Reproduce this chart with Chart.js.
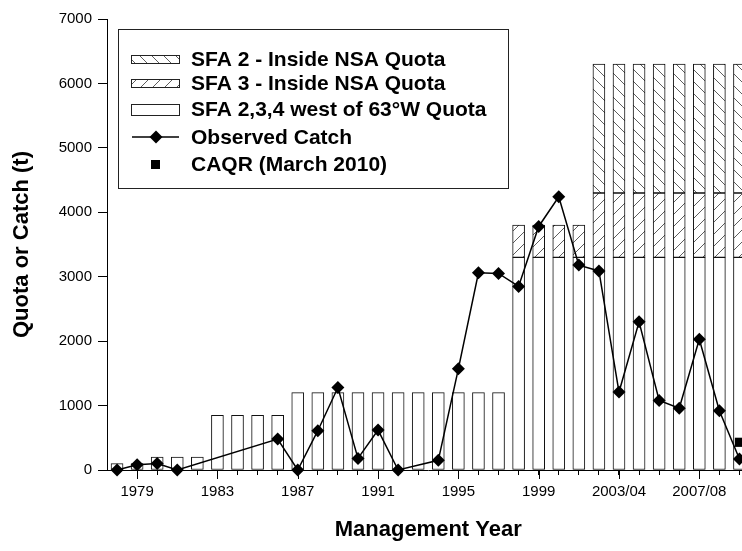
<!DOCTYPE html>
<html>
<head>
<meta charset="utf-8">
<script src="https://cdn.jsdelivr.net/npm/chart.js@4/dist/chart.umd.min.js"></script>
<style>
  html, body { margin: 0; padding: 0; background: #fff; overflow: hidden; }
  #wrap { position: relative; width: 756px; height: 551px; }
</style>
</head>
<body>
<div id="wrap"><canvas id="chart"></canvas></div>
<script>
const years = ['1978', '1979', '1980', '1981', '1982', '1983', '1984', '1985', '1986', '1987',
  '1988', '1989', '1990', '1991', '1992', '1993', '1994', '1995', '1996', '1997',
  '1998', '1999', '2000', '2001', '2002', '2003/04', '2004/05', '2005/06', '2006/07',
  '2007/08', '2008/09', '2009/10'];

// quota pieces (t)
const westQuota = [100, 100, 200, 200, 200, 850, 850, 850, 850, 1200,
  1200, 1200, 1200, 1200, 1200, 1200, 1200, 1200, 1200, 1200,
  3300, 3300, 3300, 3300, 3300, 3300, 3300, 3300, 3300, 3300, 3300, 3300];
const sfa3Quota = [null, null, null, null, null, null, null, null, null, null,
  null, null, null, null, null, null, null, null, null, null,
  500, 500, 500, 500, 1000, 1000, 1000, 1000, 1000, 1000, 1000, 1000];
const sfa2Quota = [null, null, null, null, null, null, null, null, null, null,
  null, null, null, null, null, null, null, null, null, null,
  null, null, null, null, 2000, 2000, 2000, 2000, 2000, 2000, 2000, 2000];

const observedCatch = [0, 80, 100, 0, null, null, null, null, 480, 0,
  610, 1280, 180, 620, 0, null, 150, 1570, 3060, 3050,
  2850, 3780, 4240, 3180, 3090, 1210, 2300, 1080, 960, 2030, 920, 170];
const caqr = [null, null, null, null, null, null, null, null, null, null,
  null, null, null, null, null, null, null, null, null, null,
  null, null, null, null, null, null, null, null, null, null, null, 430];

const yTicks = [0, 1000, 2000, 3000, 4000, 5000, 6000, 7000];
const shownYears = ['1979', '1983', '1987', '1991', '1995', '1999', '2003/04', '2007/08'];

const FONT = "'Liberation Sans', Arial, Helvetica, sans-serif";

const ctx = document.getElementById('chart').getContext('2d');

function makePattern(dir) {
  const c = document.createElement('canvas');
  c.width = 12;
  c.height = 12;
  const g = c.getContext('2d');
  g.fillStyle = '#fff';
  g.fillRect(0, 0, 12, 12);
  g.strokeStyle = '#333';
  g.lineWidth = 0.8;
  g.beginPath();
  for (let k = -12; k <= 12; k += 12) {
    if (dir === 'back') { g.moveTo(k - 1, -1); g.lineTo(k + 13, 13); }
    else { g.moveTo(k - 1, 13); g.lineTo(k + 13, -1); }
  }
  g.stroke();
  return ctx.createPattern(c, 'repeat');
}

const backHatch = makePattern('back');
const fwdHatch = makePattern('fwd');

// legend box + long major ticks on the x axis
const extras = {
  id: 'extras',
  afterDraw(chart) {
    const c = chart.ctx;
    const xs = chart.scales.x;
    const base = chart.chartArea.bottom;

    c.save();
    c.strokeStyle = '#000';
    c.lineWidth = 1;
    years.forEach((y, i) => {
      if (shownYears.includes(y)) {
        const px = Math.round(xs.getPixelForValue(i)) + 0.5;
        c.beginPath();
        c.moveTo(px, base);
        c.lineTo(px, base + 9);
        c.stroke();
      }
    });

    // legend
    const lx = 118, ly = 29, lw = 390, lh = 159;
    c.fillStyle = '#fff';
    c.fillRect(lx, ly, lw, lh);
    c.strokeStyle = '#222';
    c.strokeRect(lx + 0.5, ly + 0.5, lw, lh);

    const items = [
      { label: 'SFA 2 - Inside NSA Quota', kind: 'box', fill: backHatch, y: 59, h: 8 },
      { label: 'SFA 3 - Inside NSA Quota', kind: 'box', fill: fwdHatch, y: 83, h: 8 },
      { label: 'SFA 2,3,4 west of 63\u00b0W Quota', kind: 'box', fill: '#fff', y: 109, h: 11 },
      { label: 'Observed Catch', kind: 'line', y: 137 },
      { label: 'CAQR (March 2010)', kind: 'square', y: 164.5 },
    ];
    c.font = 'bold 21px ' + FONT;
    c.textBaseline = 'middle';
    items.forEach((it) => {
      if (it.kind === 'box') {
        c.fillStyle = it.fill;
        c.fillRect(131, it.y - it.h / 2, 48, it.h);
        c.strokeStyle = '#222';
        c.lineWidth = 1;
        c.strokeRect(131.5, Math.round(it.y - it.h / 2) + 0.5, 48, it.h);
      } else if (it.kind === 'line') {
        c.strokeStyle = '#000';
        c.lineWidth = 1.5;
        c.beginPath();
        c.moveTo(132, it.y);
        c.lineTo(179, it.y);
        c.stroke();
        c.fillStyle = '#000';
        c.beginPath();
        c.moveTo(156, it.y - 6.5);
        c.lineTo(162.5, it.y);
        c.lineTo(156, it.y + 6.5);
        c.lineTo(149.5, it.y);
        c.closePath();
        c.fill();
      } else {
        c.fillStyle = '#000';
        c.fillRect(151, it.y - 4.5, 9, 9);
      }
      c.fillStyle = '#000';
      c.fillText(it.label, 191, it.y + 1);
    });
    c.restore();
  }
};

new Chart(ctx, {
  type: 'bar',
  data: {
    labels: years,
    datasets: [
      {
        type: 'line',
        label: 'Observed Catch',
        data: observedCatch,
        stack: 'catch',
        order: 0,
        borderColor: '#000',
        borderWidth: 1.5,
        backgroundColor: '#000',
        pointStyle: 'rectRot',
        pointRadius: 6.5,
        pointBackgroundColor: '#000',
        pointBorderWidth: 0,
        spanGaps: true,
        tension: 0,
        clip: false,
      },
      {
        type: 'line',
        label: 'CAQR (March 2010)',
        data: caqr,
        stack: 'caqr',
        order: 0,
        showLine: false,
        pointStyle: 'rect',
        pointRadius: 6.5,
        pointBackgroundColor: '#000',
        pointBorderWidth: 0,
        clip: false,
      },
      {
        label: 'SFA 2,3,4 west of 63\u00b0W Quota',
        data: westQuota,
        stack: 'quota',
        order: 1,
        backgroundColor: '#fff',
        borderColor: '#111',
        borderWidth: 1,
        barThickness: 12,
        borderSkipped: false,
      },
      {
        label: 'SFA 3 - Inside NSA Quota',
        data: sfa3Quota,
        stack: 'quota',
        order: 1,
        backgroundColor: fwdHatch,
        borderColor: '#111',
        borderWidth: 1,
        barThickness: 12,
        borderSkipped: false,
      },
      {
        label: 'SFA 2 - Inside NSA Quota',
        data: sfa2Quota,
        stack: 'quota',
        order: 1,
        backgroundColor: backHatch,
        borderColor: '#111',
        borderWidth: 1,
        barThickness: 12,
        borderSkipped: false,
      },
    ],
  },
  options: {
    responsive: true,
    maintainAspectRatio: false,
    animation: false,
    layout: { padding: { top: 19, left: 0, right: 0, bottom: 0 } },
    plugins: {
      legend: { display: false },
      tooltip: { enabled: false },
    },
    scales: {
      x: {
        stacked: true,
        offset: true,
        grid: {
          offset: false,
          drawOnChartArea: false,
          tickLength: 5,
          color: '#000',
        },
        border: { color: '#000', width: 1 },
        ticks: {
          autoSkip: false,
          maxRotation: 0,
          color: '#000',
          padding: 8,
          font: { family: FONT, size: 15 },
          callback: (v, i) => (shownYears.includes(years[i]) ? years[i] : ''),
        },
        title: {
          display: true,
          text: 'Management Year',
          color: '#000',
          font: { family: FONT, size: 22, weight: 'bold' },
          padding: { top: 0, bottom: 8 },
        },
        afterFit: (s) => { s.height = 81; },
      },
      y: {
        stacked: true,
        min: 0,
        max: 7000,
        afterBuildTicks: (s) => { s.ticks = yTicks.map((v) => ({ value: v })); },
        grid: {
          drawOnChartArea: false,
          tickLength: 9,
          color: '#000',
        },
        border: { color: '#000', width: 1 },
        ticks: {
          color: '#000',
          padding: 6,
          font: { family: FONT, size: 15 },
          callback: (v) => String(v),
        },
        title: {
          display: true,
          text: 'Quota or Catch (t)',
          color: '#000',
          font: { family: FONT, size: 22, weight: 'bold' },
          padding: { top: 9, bottom: 0 },
        },
        afterFit: (s) => { s.width = 107; },
      },
    },
  },
  plugins: [extras],
});
</script>
</body>
</html>
